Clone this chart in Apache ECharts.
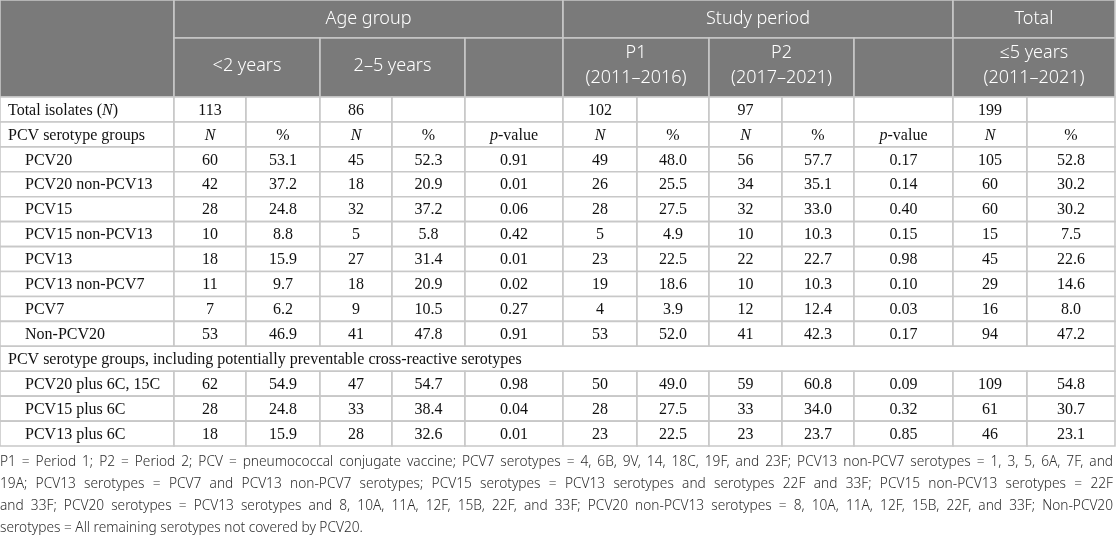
<!DOCTYPE html>
<html>
<head>
<meta charset="utf-8">
<title>PCV serotype groups</title>
<script src="https://cdn.jsdelivr.net/npm/echarts@6/dist/echarts.min.js"></script>
<style>
    html, body { margin: 0; padding: 0; background: #fff; }
    #main { width: 1116px; height: 535px; }
</style>
</head>
<body>
<div id="main"></div>
<script>
    // 行标签
    var groupLabels = ['PCV20', 'PCV20 non-PCV13', 'PCV15', 'PCV15 non-PCV13', 'PCV13', 'PCV13 non-PCV7', 'PCV7', 'Non-PCV20',
        'PCV20 plus 6C, 15C', 'PCV15 plus 6C', 'PCV13 plus 6C'];
    var sectionTitle = 'PCV serotype groups, including potentially preventable cross-reactive serotypes';

    // 表头
    var topHeads = ['Age group', 'Study period', 'Total'];
    var subHeads = ['<2 years', '2–5 years', '', 'P1\n(2011–2016)', 'P2\n(2017–2021)', '', '≤5 years\n(2011–2021)'];
    var unitHeads = ['{i|N}', '%', '{i|N}', '%', '{i|p}-value', '{i|N}', '%', '{i|N}', '%', '{i|p}-value', '{i|N}', '%'];

    // 数据
    var totalIsolates = [113, 86, 102, 97, 199];
    var lt2N     = [60, 42, 28, 10, 18, 11, 7, 53, 62, 28, 18];
    var lt2Pct   = [53.1, 37.2, 24.8, 8.8, 15.9, 9.7, 6.2, 46.9, 54.9, 24.8, 15.9];
    var age25N   = [45, 18, 32, 5, 27, 18, 9, 41, 47, 33, 28];
    var age25Pct = [52.3, 20.9, 37.2, 5.8, 31.4, 20.9, 10.5, 47.8, 54.7, 38.4, 32.6];
    var ageP     = [0.91, 0.01, 0.06, 0.42, 0.01, 0.02, 0.27, 0.91, 0.98, 0.04, 0.01];
    var p1N      = [49, 26, 28, 5, 23, 19, 4, 53, 50, 28, 23];
    var p1Pct    = [48.0, 25.5, 27.5, 4.9, 22.5, 18.6, 3.9, 52.0, 49.0, 27.5, 22.5];
    var p2N      = [56, 34, 32, 10, 22, 10, 12, 41, 59, 33, 23];
    var p2Pct    = [57.7, 35.1, 33.0, 10.3, 22.7, 10.3, 12.4, 42.3, 60.8, 34.0, 23.7];
    var periodP  = [0.17, 0.14, 0.40, 0.15, 0.98, 0.10, 0.03, 0.17, 0.09, 0.32, 0.85];
    var totalN   = [105, 60, 60, 15, 45, 29, 16, 94, 109, 61, 46];
    var totalPct = [52.8, 30.2, 30.2, 7.5, 22.6, 14.6, 8.0, 47.2, 54.8, 30.7, 23.1];

    var noteLines = [
        'P1 = Period 1; P2 = Period 2; PCV = pneumococcal conjugate vaccine; PCV7 serotypes = 4, 6B, 9V, 14, 18C, 19F, and 23F; PCV13 non-PCV7 serotypes = 1, 3, 5, 6A, 7F, and',
        '19A; PCV13 serotypes = PCV7 and PCV13 non-PCV7 serotypes; PCV15 serotypes = PCV13 serotypes and serotypes 22F and 33F; PCV15 non-PCV13 serotypes = 22F',
        'and 33F; PCV20 serotypes = PCV13 serotypes and 8, 10A, 11A, 12F, 15B, 22F, and 33F; PCV20 non-PCV13 serotypes = 8, 10A, 11A, 12F, 15B, 22F, and 33F; Non-PCV20',
        'serotypes = All remaining serotypes not covered by PCV20.'
    ];

    // 版面
    var W = 1116, H = 535;
    var colEdges = [0, 174, 246, 320, 392, 465, 563, 637, 709, 782, 854, 953, 1027, 1115];
    var headMid = 38, headBottom = 97, rowH = 24.93;
    var headFont = 'Noto Sans', bodyFont = 'Liberation Serif';
    var noteFontSize = 13.7, noteLineH = 21.8;

    var cells = [];
    function addCell(c0, c1, y0, y1, text, kind, align, pad, dy) {
        cells.push({x0: colEdges[c0], x1: colEdges[c1], y0: y0, y1: y1, text: text, kind: kind,
            align: align || 'center', pad: pad || 0, dy: dy || 0});
    }

    // 表头
    addCell(0, 1, 0, headBottom, '', 'head');
    addCell(1, 6, 0, headMid, topHeads[0], 'head', 'center', 0, -0.5);
    addCell(6, 11, 0, headMid, topHeads[1], 'head', 'center', 0, -0.5);
    addCell(11, 13, 0, headMid, topHeads[2], 'head', 'center', 0, -0.5);
    var subSpans = [[1, 3], [3, 5], [5, 6], [6, 8], [8, 10], [10, 11], [11, 13]];
    subSpans.forEach(function (s, i) {
        addCell(s[0], s[1], headMid, headBottom, subHeads[i], 'head', 'center', 0, -2);
    });

    // 表体
    function rowY(k) { return headBottom + k * rowH; }
    addCell(0, 1, rowY(0), rowY(1), 'Total isolates ({i|N})', 'body', 'left', 8, 1);
    var totalCols = [1, 3, 6, 8, 11];
    for (var c = 1; c < 13; c++) {
        var ti = totalCols.indexOf(c);
        addCell(c, c + 1, rowY(0), rowY(1), ti >= 0 ? String(totalIsolates[ti]) : '', 'body', 'center', 0, 1);
    }
    addCell(0, 1, rowY(1), rowY(2), 'PCV serotype groups', 'body', 'left', 8, 1);
    unitHeads.forEach(function (u, i) {
        addCell(i + 1, i + 2, rowY(1), rowY(2), u, 'body', 'center', 0, 1);
    });

    var valueCols = [lt2N, lt2Pct, age25N, age25Pct, ageP, p1N, p1Pct, p2N, p2Pct, periodP, totalN, totalPct];
    var digits = [0, 1, 0, 1, 2, 0, 1, 0, 1, 2, 0, 1];
    groupLabels.forEach(function (label, g) {
        var k = g < 8 ? g + 2 : g + 3;
        if (g === 8) {
            addCell(0, 13, rowY(10), rowY(11), sectionTitle, 'body', 'left', 8, 1);
        }
        addCell(0, 1, rowY(k), rowY(k + 1), label, 'body', 'left', 25, 1);
        valueCols.forEach(function (arr, i) {
            addCell(i + 1, i + 2, rowY(k), rowY(k + 1), arr[g].toFixed(digits[i]), 'body', 'center', 0, 1);
        });
    });
    var tableBottom = rowY(14);

    var richBody = {
        i: {fontFamily: bodyFont, fontSize: 16, fontStyle: 'italic', fill: '#111'}
    };

    function renderCell(params, api) {
        var c = cells[params.dataIndex];
        var p0 = api.coord([api.value(0), api.value(1)]);
        var p1 = api.coord([api.value(2), api.value(3)]);
        var head = c.kind === 'head';
        var children = [{
            type: 'rect',
            shape: {x: p0[0], y: p0[1], width: p1[0] - p0[0], height: p1[1] - p0[1]},
            style: {fill: head ? '#7a7a7a' : '#fff', stroke: '#c8c8c8', lineWidth: 1.6}
        }];
        if (c.text) {
            children.push({
                type: 'text',
                style: {
                    text: c.text,
                    x: c.align === 'left' ? p0[0] + c.pad : (p0[0] + p1[0]) / 2,
                    y: (p0[1] + p1[1]) / 2 + c.dy,
                    align: c.align,
                    verticalAlign: 'middle',
                    fontFamily: head ? headFont : bodyFont,
                    fontWeight: head ? 300 : 'normal',
                    fontSize: head ? 18 : 16,
                    lineHeight: head ? 25 : 18,
                    fill: head ? '#fff' : '#111',
                    rich: richBody
                }
            });
        }
        return {type: 'group', children: children};
    }

    // 注释，两端对齐
    var noteFont = '300 ' + noteFontSize + 'px "' + headFont + '"';
    var ctx = document.createElement('canvas').getContext('2d');
    ctx.font = noteFont;
    var noteGraphics = [];
    noteLines.forEach(function (line, li) {
        var words = line.split(' ');
        var widths = words.map(function (w) { return ctx.measureText(w).width; });
        var sum = widths.reduce(function (a, b) { return a + b; }, 0);
        var gap = li < noteLines.length - 1 ? (1113 - sum) / (words.length - 1) : ctx.measureText(' ').width;
        var x = 0;
        var y = tableBottom + 16.5 + li * noteLineH;
        words.forEach(function (w, wi) {
            noteGraphics.push({
                type: 'text', x: x, y: y, silent: true,
                style: {text: w, font: noteFont, fill: '#2b2b2b', verticalAlign: 'middle'}
            });
            x += widths[wi] + gap;
        });
    });

    var chart = echarts.init(document.getElementById('main'), null, {renderer: 'canvas'});
    chart.setOption({
        animation: false,
        grid: {left: 0, right: 0, top: 0, bottom: 0},
        xAxis: {type: 'value', min: 0, max: W, show: false},
        yAxis: {type: 'value', min: 0, max: H, inverse: true, show: false},
        graphic: noteGraphics,
        series: [{
            type: 'custom',
            silent: true,
            renderItem: renderCell,
            encode: {x: [0, 2], y: [1, 3]},
            data: cells.map(function (c) { return [c.x0, c.y0, c.x1, c.y1]; })
        }]
    });
    window.onresize = chart.resize;
</script>
</body>
</html>
